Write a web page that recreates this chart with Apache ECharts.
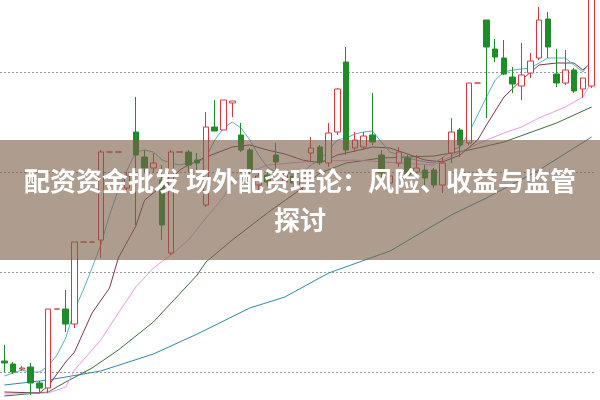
<!DOCTYPE html>
<html><head><meta charset="utf-8">
<script src="https://cdn.jsdelivr.net/npm/echarts@6/dist/echarts.min.js"></script>
<style>html,body{margin:0;padding:0;background:#fff}#c{width:600px;height:400px}</style>
</head><body><div id="c"></div>
<script>
const days = Array.from({length: 68}, (_, i) => 'D' + (i + 1));
const opens = [11.1,10.8,10.3,10.5,8.9,8.4,16.3,16.3,14.8,23.0,23.0,23.2,32.0,32.0,28.4,34.0,31.5,30.4,29.2,21.9,32.0,32.0,31.2,26.7,34.5,34.2,36.9,33.7,32.2,28.7,29.7,31.7,29.0,29.6,28.6,31.9,32.5,30.9,34.0,41.0,32.4,32.5,33.7,31.7,28.9,30.9,31.4,30.0,30.2,30.2,28.7,31.9,34.2,32.9,38.9,45.2,42.3,41.4,39.5,38.6,39.9,41.4,45.3,39.8,38.9,40.2,38.3,38.6];
const closes = [10.9,10.0,10.4,8.9,8.4,16.3,16.3,14.8,23.0,23.0,23.0,32.0,32.0,32.0,29.6,31.7,30.4,30.9,24.7,32.0,32.0,30.7,30.9,34.5,34.1,37.2,37.1,32.2,30.2,29.6,29.0,31.0,29.8,28.9,29.4,32.4,31.0,33.9,38.3,32.2,33.2,33.6,33.0,29.9,29.6,32.0,29.7,30.4,29.4,28.7,30.9,34.0,32.7,38.9,38.9,42.5,41.5,39.8,38.8,39.7,41.1,45.2,42.5,38.9,40.2,38.1,39.4,47.7];
const lows = [10.0,9.8,10.1,7.7,8.0,7.9,16.3,14.0,14.4,23.0,23.0,21.4,32.0,32.0,28.0,24.7,30.0,29.9,23.2,21.7,32.0,30.0,30.0,26.5,34.1,34.2,35.5,32.0,29.5,28.2,28.6,29.9,28.6,28.5,27.9,31.0,30.7,30.5,33.7,31.7,32.0,32.2,32.7,29.4,28.5,30.5,29.4,29.7,28.7,28.4,27.9,30.9,31.5,32.7,38.9,35.4,41.0,39.7,37.9,37.2,39.4,41.2,41.4,38.5,38.7,37.9,37.4,38.4];
const highs = [12.7,11.0,10.6,10.9,9.1,16.3,16.3,18.2,23.0,23.0,23.0,32.2,32.0,32.0,30.0,37.5,32.2,31.9,30.7,32.2,32.0,32.2,31.9,36.0,37.2,37.2,37.1,34.9,32.4,30.0,30.0,32.9,30.1,30.0,29.9,33.5,32.7,34.9,38.4,42.5,34.0,34.0,37.9,32.2,30.0,32.5,31.7,31.7,30.7,30.4,31.5,35.4,34.4,38.9,38.9,45.2,43.3,43.2,40.5,42.9,41.9,46.5,46.0,42.3,42.2,40.4,39.4,48.2];

const ma5 = [9.6,9.9,10.2,10.0,10.0,10.6,11.7,13.4,16.2,18.2,20.4,22.7,25.7,28.2,30.2,32.0,32.2,32.0,31.2,30.9,30.7,30.9,31.0,31.4,33.2,34.4,35.0,34.4,33.2,31.7,30.5,30.0,30.0,29.7,30.0,30.7,31.2,32.2,33.2,33.4,33.8,34.0,34.1,33.0,32.0,31.7,31.4,31.2,31.0,30.9,31.4,32.2,32.5,33.9,35.7,37.5,39.2,40.0,40.2,40.3,40.4,40.9,41.4,41.4,41.4,40.7,40.0,41.2];
// sparse readings: [dayIndex, value]
const ma10Pts = [[0,8.0],[4,7.9],[5,8.6],[7,11.0],[8,12.0],[10,15.9],[12,18.4],[13,21.4],[15,24.6],[16,27.2],[17,27.9],[18,28.6],[19,29.2],[20,30.2],[21,30.7],[23,31.5],[26,32.5],[28,32.7],[30,32.2],[32,31.8],[34,31.2],[36,30.9],[38,31.7],[42,32.5],[44,32.4],[48,31.2],[50,31.0],[52,31.7],[54,33.2],[55,34.7],[57,37.5],[59,39.2],[61,40.7],[63,40.9],[65,40.9],[66,40.2],[67,41.0]];
const ma20Pts = [[0,7.8],[5,7.9],[7,8.5],[8,10.2],[11,13.2],[13,15.9],[15,18.5],[17,20.4],[19,21.7],[21,23.2],[23,25.4],[25,27.5],[26,29.0],[28,30.0],[30,30.7],[34,31.0],[40,31.2],[45,30.9],[49,30.7],[52,32.0],[55,33.2],[57,33.9],[59,34.5],[61,35.4],[64,36.5],[66,37.5],[67,39.0]];
const ma30Pts = [[0,7.6],[5,8.0],[7,9.0],[10,10.4],[13,12.2],[17,15.0],[22,19.7],[23,21.0],[26,23.2],[30,25.9],[34,28.4],[36,29.9],[39,30.9],[43,31.4],[49,31.6],[53,32.2],[57,33.0],[63,34.9],[67,36.5]];
const ma60Pts = [[0,8.7],[5,9.2],[11,10.1],[17,11.8],[22,13.8],[28,16.4],[32,17.5],[37,19.9],[44,22.1],[51,25.7],[55,27.4],[61,30.2],[67,33.5]];

const titleLines = ['配资资金批发 场外配资理论：风险、收益与监管', '探讨'];

function sparse(pts) {
  const arr = days.map(() => null);
  pts.forEach(p => { arr[p[0]] = p[1]; });
  return arr;
}
const kData = days.map((d, i) => [opens[i], closes[i], lows[i], highs[i]]);

function maSeries(name, data, color) {
  return {name, type: 'line', data, connectNulls: true, symbol: 'none', clip: false,
    lineStyle: {color, width: 1}, z: 2, silent: true};
}

const chart = echarts.init(document.getElementById('c'), null, {renderer: 'canvas'});
chart.setOption({
  animation: false,
  backgroundColor: '#fff',
  grid: {left: 0, right: 4, top: 72, bottom: 28},
  xAxis: {type: 'category', data: days, show: false, boundaryGap: true},
  yAxis: {type: 'value', min: 10, max: 40, interval: 10,
    axisLabel: {show: false}, axisLine: {show: false}, axisTick: {show: false},
    splitLine: {show: true, lineStyle: {color: '#9a9a9a', type: [2, 2], width: 1}}},
  series: [
    maSeries('MA60', sparse(ma60Pts), '#2b8da6'),
    maSeries('MA30', sparse(ma30Pts), '#3d6e37'),
    maSeries('MA20', sparse(ma20Pts), '#e79be3'),
    maSeries('MA10', sparse(ma10Pts), '#7d3558'),
    maSeries('MA5', ma5, '#56b3c3'),
    {type: 'candlestick', data: kData, barWidth: 6, clip: false, z: 3,
      itemStyle: {color: '#ffffff', color0: '#1f8c2a', borderColor: '#d23a40', borderColor0: '#1f8c2a', borderWidth: 1}}
  ],
  graphic: [
    {type: 'rect', shape: {x: 0, y: 140, width: 600, height: 120}, style: {fill: 'rgba(125,95,75,0.62)'}, z: 100},
    {type: 'text', x: 300, y: 162, z: 101,
      style: {text: titleLines.join('\n'), fill: '#ffffff', textAlign: 'center', textVerticalAlign: 'top',
        font: 'bold 26px "Noto Sans CJK SC"', lineHeight: 39}}
  ]
});
</script></body></html>
